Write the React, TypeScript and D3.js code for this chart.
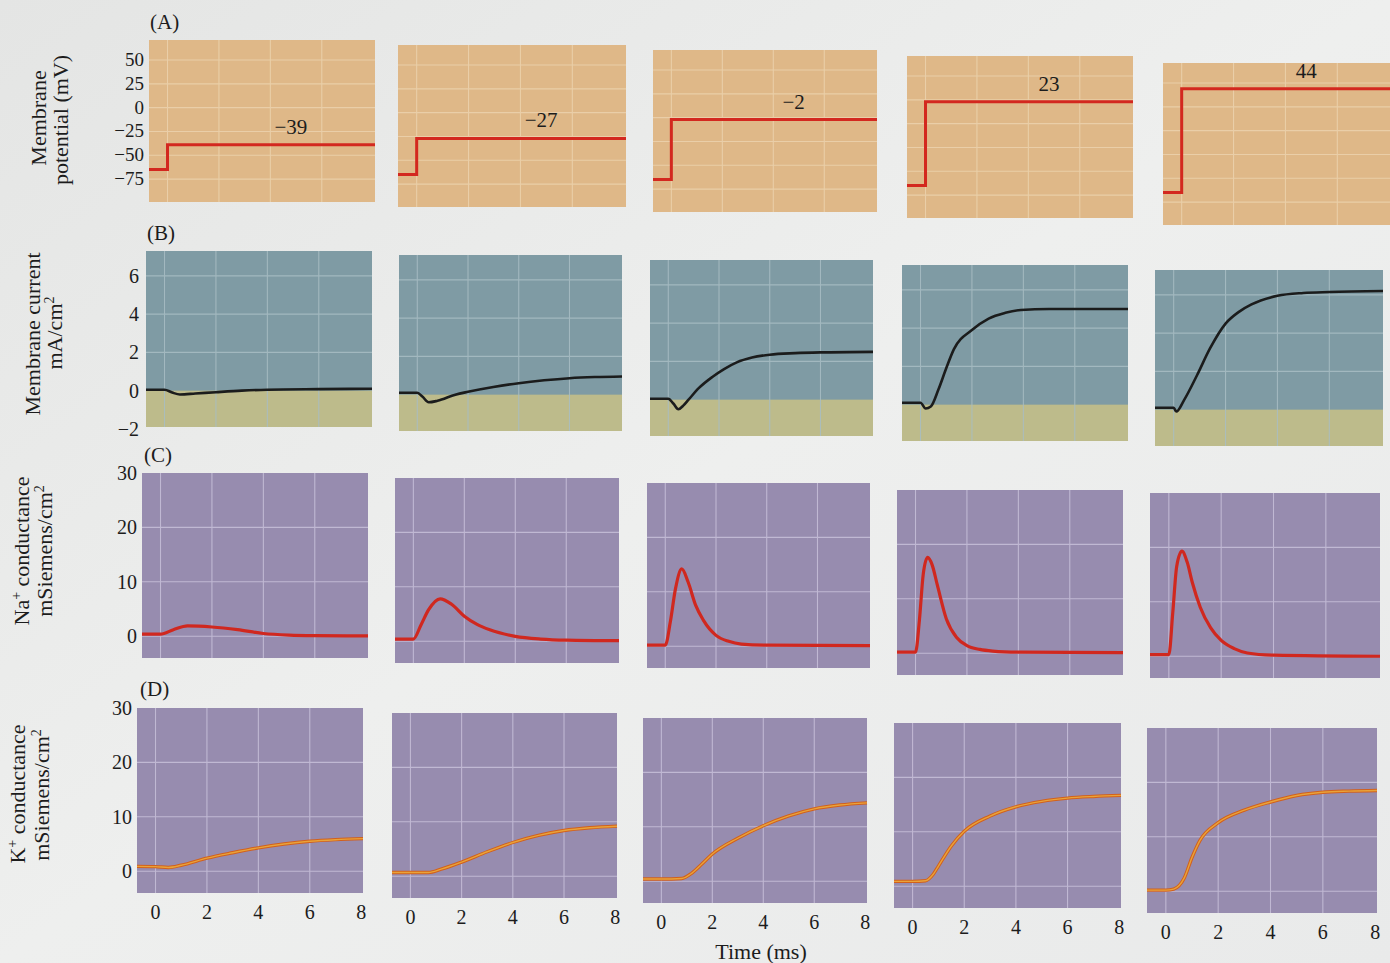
import React from "react";
import * as d3 from "d3";

// ---------- data ----------
const timeTicks = [0, 2, 4, 6, 8];
const timeDomain: [number, number] = [-0.72, 8.07];
const holdingPotential = -65;
const stepPotentials = [-39, -27, -2, 23, 44];
const potentialTicks = [50, 25, 0, -25, -50, -75];
const currentTicks = [6, 4, 2, 0, -2];
const conductanceTicks = [30, 20, 10, 0];

// membrane current (mA/cm2) per step, [time ms, value]
const current1 = [[-0.72, 0.05], [0, 0.05], [0.3, -0.1], [0.6, -0.2], [1.2, -0.15], [2, -0.08], [3, 0], [4, 0.05], [6, 0.08], [8.07, 0.1]];
const current2 = [[-0.72, 0.1], [0, 0.1], [0.2, -0.1], [0.45, -0.4], [0.8, -0.32], [1.5, 0], [2, 0.15], [3, 0.4], [4, 0.6], [5, 0.75], [6, 0.86], [7, 0.92], [8.07, 0.95]];
const current3 = [[-0.72, 0.05], [0, 0.05], [0.2, -0.2], [0.4, -0.5], [0.6, -0.3], [0.8, 0], [1.2, 0.6], [1.75, 1.2], [2.2, 1.6], [2.7, 1.95], [3.3, 2.2], [4, 2.35], [5, 2.43], [6, 2.47], [8.07, 2.5]];
const current4 = [[-0.72, 0.1], [0, 0.1], [0.2, -0.2], [0.4, -0.1], [0.7, 0.8], [1, 1.9], [1.3, 2.9], [2, 3.9], [2.65, 4.5], [3.3, 4.8], [3.9, 4.95], [5, 5.0], [8.07, 5.0]];
const current5 = [[-0.72, 0.1], [0, 0.1], [0.1, -0.1], [0.4, 0.5], [0.9, 1.8], [1.4, 3.2], [2, 4.5], [2.5, 5.1], [3, 5.5], [4, 5.95], [5, 6.1], [6, 6.15], [8.07, 6.2]];

// Na+ conductance (mS/cm2)
const sodium1 = [[-0.72, 0.4], [0, 0.4], [0.5, 1.2], [1.05, 1.9], [2, 1.7], [3, 1.2], [4, 0.5], [5, 0.2], [6, 0.1], [8.07, 0.05]];
const sodium2 = [[-0.72, 0.4], [0, 0.4], [0.3, 3], [0.6, 5.8], [1.05, 7.8], [1.5, 6.8], [2, 4.6], [2.5, 3.1], [3, 2.1], [4, 0.9], [5, 0.4], [6, 0.2], [8.07, 0.1]];
const sodium3 = [[-0.72, 0.2], [0, 0.2], [0.2, 4.5], [0.4, 10.5], [0.65, 14.2], [0.9, 11.8], [1.2, 7.5], [1.5, 4.8], [2, 2], [2.5, 0.9], [3, 0.4], [4, 0.2], [8.07, 0.1]];
const sodium4 = [[-0.72, 0.2], [0, 0.2], [0.15, 6], [0.3, 14.5], [0.47, 17.6], [0.65, 16.2], [0.85, 12.5], [1.2, 6.3], [1.6, 2.9], [2, 1.4], [2.5, 0.7], [3, 0.4], [4, 0.2], [8.07, 0.1]];
const sodium5 = [[-0.72, 0.3], [0, 0.3], [0.15, 8], [0.3, 16.5], [0.5, 19.3], [0.7, 17.3], [0.9, 13.5], [1.2, 9], [1.6, 5.2], [2, 2.9], [2.5, 1.4], [3, 0.6], [4, 0.2], [8.07, 0]];

// K+ conductance (mS/cm2)
const potassium1 = [[-0.72, 0.9], [0, 0.85], [0.5, 0.7], [1, 1.1], [2, 2.4], [3, 3.4], [4, 4.3], [5, 5.0], [6, 5.5], [7, 5.8], [8.07, 6.0]];
const potassium2 = [[-0.72, 0.7], [0, 0.7], [0.7, 0.7], [1.2, 1.3], [2, 2.6], [3, 4.5], [4, 6.2], [5, 7.5], [6, 8.4], [7, 8.9], [8.07, 9.2]];
const potassium3 = [[-0.72, 0.4], [0, 0.4], [0.8, 0.5], [1.2, 1.5], [1.6, 3.2], [2, 5], [3, 7.9], [4, 10.2], [5, 12], [6, 13.3], [7, 14], [8.07, 14.4]];
const potassium4 = [[-0.72, 0.9], [0, 0.9], [0.5, 1.0], [0.8, 2.2], [1, 3.7], [1.5, 7.4], [2, 10.1], [3, 12.9], [4, 14.6], [5, 15.6], [6, 16.2], [7, 16.5], [8.07, 16.7]];
const potassium5 = [[-0.72, 0.2], [0, 0.2], [0.3, 0.4], [0.7, 2.4], [1, 6.2], [1.3, 9.3], [2, 12.6], [3, 14.9], [4, 16.4], [5, 17.6], [6, 18.2], [7, 18.4], [8.07, 18.5]];

const currents = [current1, current2, current3, current4, current5];
const sodiums = [sodium1, sodium2, sodium3, sodium4, sodium5];
const potassiums = [potassium1, potassium2, potassium3, potassium4, potassium5];

// ---------- layout (photographed page, slightly skewed) ----------
const layout = {
  A: { lefts: [149, 398, 653, 907, 1163], tops: [40, 45, 50, 56, 63], widths: [226, 228, 224, 226, 228], height: 162, domain: [-99, 71] },
  B: { lefts: [146, 399, 650, 902, 1155], tops: [251, 255, 260, 265, 270], widths: [226, 223, 223, 226, 228], height: 176, domain: [-1.9, 7.3] },
  C: { lefts: [142, 395, 647, 897, 1150], tops: [473, 478, 483, 490, 493], widths: [226, 224, 223, 226, 230], height: 185, domain: [-4, 30] },
  D: { lefts: [137, 392, 643, 894, 1147], tops: [708, 713, 718, 723, 728], widths: [226, 225, 224, 227, 230], height: 185, domain: [-4, 30] },
};

const FONT = "'Liberation Serif', 'DejaVu Serif', serif";
const TXT = "#1c1c1c";

function scalesFor(row: keyof typeof layout, c: number) {
  const L = layout[row];
  const x = d3.scaleLinear().domain(timeDomain).range([L.lefts[c], L.lefts[c] + L.widths[c]]);
  const y = d3.scaleLinear().domain(L.domain).range([L.tops[c] + L.height, L.tops[c]]);
  return { x, y, L };
}

const fmt = (v: number) => (v < 0 ? "\u2212" + Math.abs(v) : String(v));

function Grid({ x, y, yVals, color }: any) {
  const [x0, x1] = x.range();
  const [y0, y1] = y.range();
  return (
    <g stroke={color} strokeWidth={1.1} opacity={0.85}>
      {[0, 2, 4, 6].map((t) => (
        <line key={"v" + t} x1={x(t)} x2={x(t)} y1={y0} y2={y1} />
      ))}
      {yVals.map((v: number) => (
        <line key={"h" + v} x1={x0} x2={x1} y1={y(v)} y2={y(v)} />
      ))}
    </g>
  );
}

export default function App() {
  const curve = d3.line<number[]>().curve(d3.curveMonotoneX);
  const straight = d3.line<number[]>();
  const cols = [0, 1, 2, 3, 4];

  return (
    <svg
      width={1390}
      height={963}
      style={{ position: "absolute", left: 0, top: 0, background: "#eaeae8" }}
      fontFamily={FONT}
    >
      <defs>
        <linearGradient id="page" x1="0" x2="1" y1="0" y2="1">
          <stop offset="0" stopColor="#e4e5e4" />
          <stop offset="0.5" stopColor="#eeefee" />
          <stop offset="1" stopColor="#e9eaea" />
        </linearGradient>
      </defs>
      <rect x={0} y={0} width={1390} height={963} fill="url(#page)" />

      {/* Row A: membrane potential */}
      {cols.map((c) => {
        const { x, y, L } = scalesFor("A", c);
        const pts = [
          [timeDomain[0], holdingPotential],
          [0, holdingPotential],
          [0, stepPotentials[c]],
          [timeDomain[1], stepPotentials[c]],
        ];
        const line = straight.x((d) => x(d[0])).y((d) => y(d[1]));
        return (
          <g key={"A" + c}>
            <rect x={L.lefts[c]} y={L.tops[c]} width={L.widths[c]} height={L.height} fill="#dfb888" />
            <Grid x={x} y={y} yVals={potentialTicks} color="#ecd3ae" />
            <path d={line(pts) || ""} fill="none" stroke="#d3281f" strokeWidth={3} />
            <text x={x(4.8)} y={y(stepPotentials[c]) - 11} fontSize={21} textAnchor="middle" fill={TXT}>
              {fmt(stepPotentials[c])}
            </text>
          </g>
        );
      })}

      {/* Row B: membrane current */}
      {cols.map((c) => {
        const { x, y, L } = scalesFor("B", c);
        const line = curve.x((d) => x(d[0])).y((d) => y(d[1]));
        return (
          <g key={"B" + c}>
            <rect x={L.lefts[c]} y={L.tops[c]} width={L.widths[c]} height={L.height} fill="#7f9ba4" />
            <rect x={L.lefts[c]} y={y(0)} width={L.widths[c]} height={L.tops[c] + L.height - y(0)} fill="#bdbb8b" />
            <Grid x={x} y={y} yVals={[2, 4, 6]} color="#a9bec4" />
            <path d={line(currents[c] as any) || ""} fill="none" stroke="#1b1c1c" strokeWidth={2.6} />
          </g>
        );
      })}

      {/* Row C: Na+ conductance */}
      {cols.map((c) => {
        const { x, y, L } = scalesFor("C", c);
        const line = curve.x((d) => x(d[0])).y((d) => y(d[1]));
        return (
          <g key={"C" + c}>
            <rect x={L.lefts[c]} y={L.tops[c]} width={L.widths[c]} height={L.height} fill="#978caf" />
            <Grid x={x} y={y} yVals={[0, 10, 20]} color="#c8c0da" />
            <path d={line(sodiums[c] as any) || ""} fill="none" stroke="#d0281f" strokeWidth={3.2} />
          </g>
        );
      })}

      {/* Row D: K+ conductance */}
      {cols.map((c) => {
        const { x, y, L } = scalesFor("D", c);
        const line = curve.x((d) => x(d[0])).y((d) => y(d[1]));
        const bottom = L.tops[c] + L.height;
        return (
          <g key={"D" + c}>
            <rect x={L.lefts[c]} y={L.tops[c]} width={L.widths[c]} height={L.height} fill="#978caf" />
            <Grid x={x} y={y} yVals={[0, 10, 20]} color="#c8c0da" />
            <path d={line(potassiums[c] as any) || ""} fill="none" stroke="#d2601c" strokeWidth={3.4} />
            <path d={line(potassiums[c] as any) || ""} fill="none" stroke="#e8a33a" strokeWidth={1.4} />
            {timeTicks.map((t) => (
              <text key={t} x={x(t)} y={bottom + 26} fontSize={20} textAnchor="middle" fill={TXT}>
                {t}
              </text>
            ))}
          </g>
        );
      })}

      {/* y tick labels (first column) */}
      {(() => {
        const { y, L } = scalesFor("A", 0);
        return potentialTicks.map((v) => (
          <text key={"ta" + v} x={L.lefts[0] - 5} y={y(v) + 6} fontSize={19} textAnchor="end" fill={TXT}>
            {fmt(v)}
          </text>
        ));
      })()}
      {(() => {
        const { y, L } = scalesFor("B", 0);
        return currentTicks.map((v) => (
          <text key={"tb" + v} x={L.lefts[0] - 7} y={y(v) + 7} fontSize={20} textAnchor="end" fill={TXT}>
            {fmt(v)}
          </text>
        ));
      })()}
      {(() => {
        const { y, L } = scalesFor("C", 0);
        return conductanceTicks.map((v) => (
          <text key={"tc" + v} x={L.lefts[0] - 5} y={y(v) + 7} fontSize={20} textAnchor="end" fill={TXT}>
            {v}
          </text>
        ));
      })()}
      {(() => {
        const { y, L } = scalesFor("D", 0);
        return conductanceTicks.map((v) => (
          <text key={"td" + v} x={L.lefts[0] - 5} y={y(v) + 7} fontSize={20} textAnchor="end" fill={TXT}>
            {v}
          </text>
        ));
      })()}

      {/* panel letters */}
      <g fontSize={21} fill={TXT}>
        <text x={150} y={29}>(A)</text>
        <text x={147} y={240}>(B)</text>
        <text x={144} y={462}>(C)</text>
        <text x={140} y={696}>(D)</text>
      </g>

      {/* y axis titles */}
      <g fontSize={22} fill={TXT} textAnchor="middle">
        <text transform="translate(46,118) rotate(-90)">Membrane</text>
        <text transform="translate(68,120) rotate(-90)">potential (mV)</text>
        <text transform="translate(40,334) rotate(-90)">Membrane current</text>
        <text transform="translate(62,333) rotate(-90)">
          mA/cm<tspan dy={-8} fontSize={14}>2</tspan>
        </text>
        <text transform="translate(29,551) rotate(-90)">
          Na<tspan dy={-8} fontSize={14}>+</tspan>
          <tspan dy={8}> conductance</tspan>
        </text>
        <text transform="translate(52,551) rotate(-90)">
          mSiemens/cm<tspan dy={-8} fontSize={14}>2</tspan>
        </text>
        <text transform="translate(25,794) rotate(-90)">
          K<tspan dy={-8} fontSize={14}>+</tspan>
          <tspan dy={8}> conductance</tspan>
        </text>
        <text transform="translate(49,795) rotate(-90)">
          mSiemens/cm<tspan dy={-8} fontSize={14}>2</tspan>
        </text>
      </g>

      <text x={761} y={959} fontSize={22} textAnchor="middle" fill={TXT}>Time (ms)</text>
    </svg>
  );
}
